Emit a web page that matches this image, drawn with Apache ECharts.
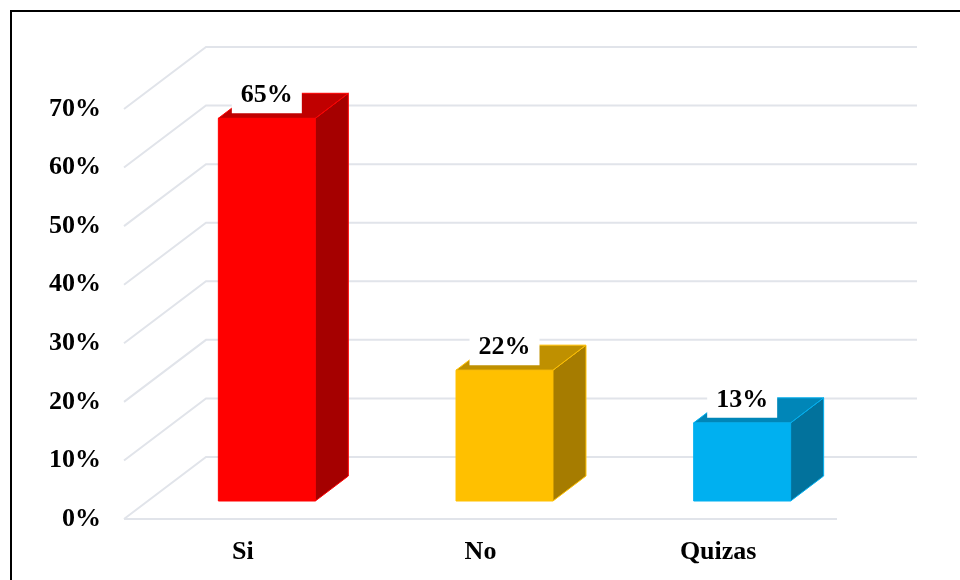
<!DOCTYPE html>
<html>
<head>
<meta charset="utf-8">
<script src="https://cdn.jsdelivr.net/npm/echarts@6/dist/echarts.min.js"></script>
<style>
  html, body { margin: 0; padding: 0; background: #fff; }
  #chart { width: 960px; height: 580px; }
</style>
</head>
<body>
<div id="chart"></div>
<script>
  // datos
  const categories = ['Si', 'No', 'Quizas'];
  const values = [65, 22, 13];
  const yTicks = [0, 10, 20, 30, 40, 50, 60, 70];

  // colores de cada barra (frente, lado, tapa)
  const frontColors = ['#FF0000', '#FFC000', '#00B0F0'];
  const sideColors = ['#A50000', '#A67C00', '#02729C'];
  const topColors = ['#C00000', '#BF9000', '#0086B8'];

  const FONT = "bold 26px 'Liberation Serif', 'Times New Roman', serif";
  const DX = 82, DY = -62;     // profundidad de las paredes
  const BDX = 33, BDY = -25;   // profundidad de la barra
  const SX = 24, SY = -18;     // desplazamiento de la cara frontal

  const chart = echarts.init(document.getElementById('chart'));

  function renderGrid(params, api) {
    const cs = params.coordSys;
    const v = api.value(1);
    const y = api.coord([0, v])[1];
    const x0 = cs.x, x1 = cs.x + cs.width;
    const style = { stroke: '#E1E4EA', lineWidth: 2, fill: null };
    const children = [{
      type: 'polyline',
      shape: { points: [[x0, y], [x0 + DX, y + DY], [x1 + DX - 2, y + DY]] },
      style: style
    }];
    if (v === 0) {
      children.push({ type: 'line', shape: { x1: x0, y1: y, x2: x1, y2: y }, style: style });
    }
    return { type: 'group', children: children };
  }

  function renderBar(params, api) {
    const i = api.value(0);
    const v = api.value(1);
    const base = api.coord([i, 0]);
    const top = api.coord([i, v]);
    const band = api.size([1, 0])[0];
    const w = band * 0.408;
    const xl = base[0] + SX - w / 2, xr = xl + w;
    const yb = base[1] + SY, yt = top[1] + SY - 2;
    return {
      type: 'group',
      children: [
        {
          type: 'rect',
          shape: { x: xl, y: yt, width: w, height: yb - yt },
          style: { fill: frontColors[i], stroke: frontColors[i], lineWidth: 1 }
        },
        {
          type: 'polygon',
          shape: { points: [[xr, yb], [xr + BDX, yb + BDY], [xr + BDX, yt + BDY], [xr, yt]] },
          style: { fill: sideColors[i], stroke: frontColors[i], lineWidth: 1 }
        },
        {
          type: 'polygon',
          shape: { points: [[xl, yt], [xl + BDX, yt + BDY], [xr + BDX, yt + BDY], [xr, yt]] },
          style: { fill: topColors[i], stroke: frontColors[i], lineWidth: 1 }
        },
        {
          type: 'text',
          style: {
            text: v + '%',
            x: (xl + xr) / 2,
            y: yt - 5,
            align: 'center',
            verticalAlign: 'bottom',
            font: FONT,
            fill: '#000',
            backgroundColor: '#fff',
            padding: [2, 9, 5, 9]
          }
        }
      ]
    };
  }

  chart.setOption({
    animation: false,
    graphic: [{
      type: 'rect',
      shape: { x: 11, y: 11, width: 1000, height: 1000 },
      style: { fill: null, stroke: '#000', lineWidth: 2 },
      z: 100
    }],
    grid: { left: 124, right: 123, top: 109, bottom: 61 },
    xAxis: {
      type: 'category',
      data: categories,
      axisLine: { show: false },
      axisTick: { show: false },
      splitLine: { show: false },
      axisLabel: {
        margin: 20,
        color: '#000',
        fontFamily: "'Liberation Serif', 'Times New Roman', serif",
        fontWeight: 'bold',
        fontSize: 26
      }
    },
    yAxis: {
      type: 'value',
      min: 0,
      max: 70,
      interval: 10,
      axisLine: { show: false },
      axisTick: { show: false },
      splitLine: { show: false },
      axisLabel: {
        margin: 23,
        color: '#000',
        fontFamily: "'Liberation Serif', 'Times New Roman', serif",
        fontWeight: 'bold',
        fontSize: 26,
        formatter: '{value}%'
      }
    },
    series: [
      {
        type: 'custom',
        name: 'grid3d',
        renderItem: renderGrid,
        data: yTicks.map(function (t) { return [0, t]; }),
        z: 1,
        silent: true
      },
      {
        type: 'custom',
        name: 'barras',
        renderItem: renderBar,
        data: values.map(function (v, i) { return [i, v]; }),
        z: 2
      }
    ]
  });
</script>
</body>
</html>
